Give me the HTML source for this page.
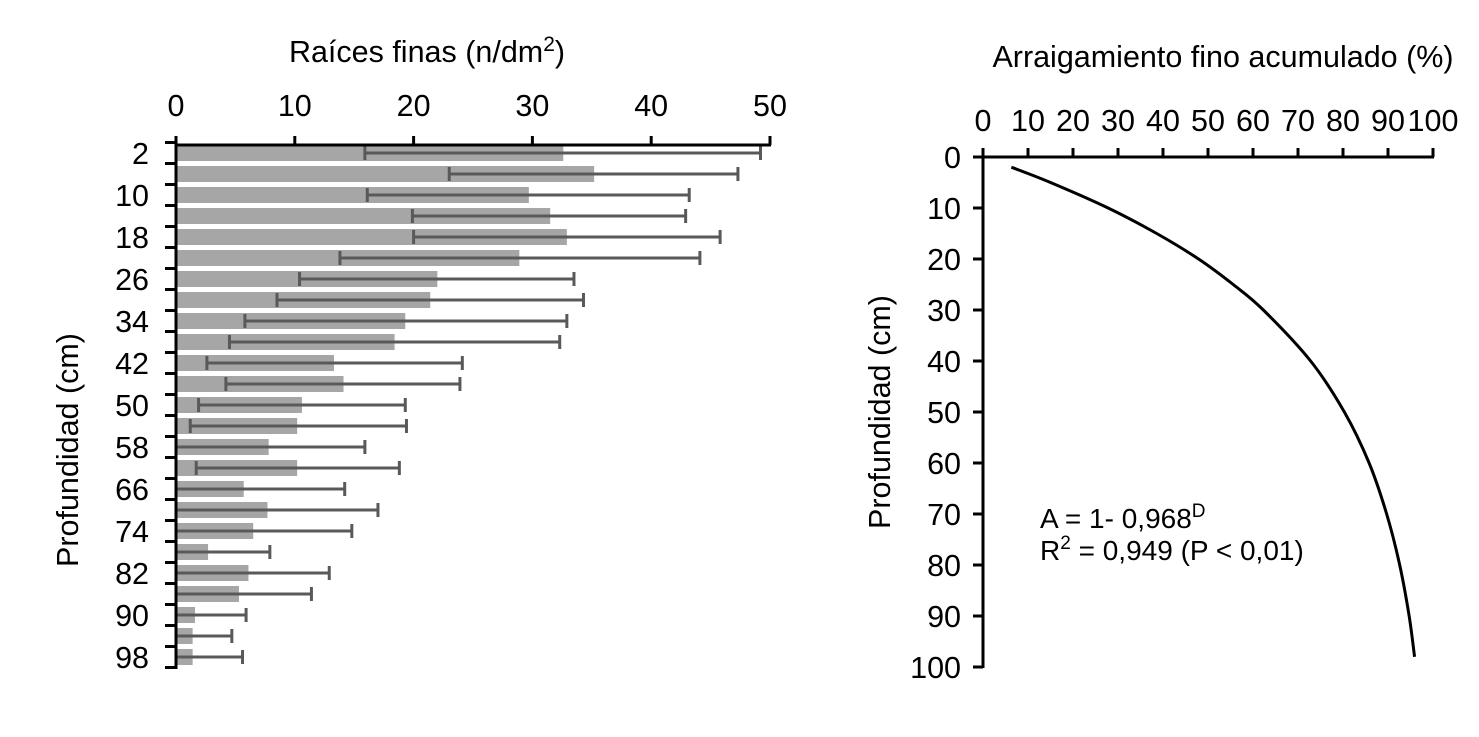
<!DOCTYPE html>
<html><head><meta charset="utf-8"><style>
html,body{margin:0;padding:0;background:#fff;width:1479px;height:737px;overflow:hidden}
svg{display:block;font-family:"Liberation Sans",Arial,sans-serif}
</style></head><body>
<svg id="c" width="1479" height="737"></svg>
<script>
const depths=[2,6,10,14,18,22,26,30,34,38,42,46,50,54,58,62,66,70,74,78,82,86,90,94,98];
const means=[32.6,35.2,29.7,31.5,32.9,28.9,22.0,21.4,19.3,18.4,13.3,14.1,10.6,10.2,7.8,10.2,5.7,7.7,6.5,2.7,6.1,5.3,1.6,1.4,1.4];
const errHigh=[49.2,47.3,43.2,42.9,45.8,44.1,33.5,34.3,32.9,32.3,24.1,23.9,19.3,19.4,15.9,18.8,14.2,17.0,14.8,7.9,12.9,11.4,5.9,4.7,5.6];
const errLow=[15.9,23.0,16.1,19.9,20.0,13.8,10.4,8.5,5.8,4.5,2.6,4.2,1.9,1.2,-0.3,1.7,-2.8,-1.6,-1.8,-2.5,-0.7,-0.8,-2.7,-1.9,-2.8];
const xTicks=[0,10,20,30,40,50];
const curveD=[2,5,10,15,20,25,30,40,50,60,70,80,90,98];
const curveA=[6.3,15.0,27.8,38.6,47.9,55.6,62.3,72.8,80.3,85.8,89.7,92.6,94.7,95.9];
const rxTicks=[0,10,20,30,40,50,60,70,80,90,100];
const ryTicks=[0,10,20,30,40,50,60,70,80,90,100];

const NS="http://www.w3.org/2000/svg";
const svg=document.getElementById('c');
const FS=30.5;
function mk(tag,attrs,parent,text){const e=document.createElementNS(NS,tag);for(const k in attrs)e.setAttribute(k,attrs[k]);if(text!==undefined)e.textContent=text;(parent||svg).appendChild(e);return e;}

// Left chart
const x0=176,x1=770,yTop=145,rowH=21,row0=153;
const X=v=>x0+(x1-x0)*v/50;
const Y=i=>row0+i*rowH;
const gl=mk('g',{});


let t=mk('text',{x:427,y:62,'text-anchor':'middle','font-size':FS},gl);


t.innerHTML='Raíces finas (n/dm<tspan dy="-11" font-size="21">2</tspan><tspan dy="11">)</tspan>';
means.forEach((m,i)=>{
  const r=mk('rect',{x:x0,y:Y(i)-8,width:X(m)-x0,height:16,fill:'#a6a6a6'},gl);
  
  
  const lo=Math.max(errLow[i],0);
  const e=mk('g',{stroke:'#595959','stroke-width':3},gl);
  
  
  mk('line',{x1:X(lo),x2:X(errHigh[i]),y1:Y(i),y2:Y(i)},e);
  mk('line',{x1:X(errHigh[i]),x2:X(errHigh[i]),y1:Y(i)-7,y2:Y(i)+7},e);
  if(errLow[i]>0) mk('line',{x1:X(lo),x2:X(lo),y1:Y(i)-7,y2:Y(i)+7},e);
});
const ax=mk('g',{stroke:'#000','stroke-width':3},gl);


mk('line',{x1:x0,x2:x1+1,y1:yTop,y2:yTop},ax);
mk('line',{x1:x0,x2:x0,y1:yTop-8,y2:Y(24)+12},ax);
xTicks.forEach(v=>{mk('line',{x1:X(v),x2:X(v),y1:yTop,y2:yTop-9},ax);
  const tt=mk('text',{x:X(v),y:116,'text-anchor':'middle','font-size':FS,stroke:'none',fill:'#000'},gl,v);
  
  });
for(let i=0;i<=25;i++){mk('line',{x1:x0,x2:x0-11,y1:Y(i)-10.5,y2:Y(i)-10.5},ax);}
depths.forEach((d,i)=>{if(i%2==0){const tt=mk('text',{x:149,y:Y(i)+11,'text-anchor':'end','font-size':FS},gl,d);
  
  }});
t=mk('text',{x:0,y:0,'text-anchor':'middle','font-size':FS,transform:'translate(78,450) rotate(-90)'},gl,'Profundidad (cm)');



// Right chart
const rx0=983,rx1=1433,ry0=157,ry1=667;
const RX=v=>rx0+(rx1-rx0)*v/100;
const RY=v=>ry0+(ry1-ry0)*v/100;
const gr=mk('g',{});


t=mk('text',{x:1223,y:67,'text-anchor':'middle','font-size':FS},gr,'Arraigamiento fino acumulado (%)');


const rax=mk('g',{stroke:'#000','stroke-width':3},gr);


mk('line',{x1:rx0-10,x2:rx1+1,y1:ry0,y2:ry0},rax);
mk('line',{x1:rx0,x2:rx0,y1:ry0-8,y2:ry1+1},rax);
rxTicks.forEach(v=>{mk('line',{x1:RX(v),x2:RX(v),y1:ry0,y2:ry0-9},rax);
  const tt=mk('text',{x:RX(v),y:131,'text-anchor':'middle','font-size':FS},gr,v);
  
  });
ryTicks.forEach(v=>{mk('line',{x1:rx0,x2:rx0-10,y1:RY(v),y2:RY(v)},rax);
  const tt=mk('text',{x:961,y:RY(v)+11,'text-anchor':'end','font-size':FS},gr,v);
  
  });
t=mk('text',{x:0,y:0,'text-anchor':'middle','font-size':FS,transform:'translate(890,412) rotate(-90)'},gr,'Profundidad (cm)');


const pts=curveD.map((d,i)=>[RX(curveA[i]),RY(d)]);
let dstr='M'+pts[0][0]+','+pts[0][1];
for(let i=0;i<pts.length-1;i++){const p0=pts[Math.max(i-1,0)],p1=pts[i],p2=pts[i+1],p3=pts[Math.min(i+2,pts.length-1)];
  dstr+=` C${p1[0]+(p2[0]-p0[0])/6},${p1[1]+(p2[1]-p0[1])/6} ${p2[0]-(p3[0]-p1[0])/6},${p2[1]-(p3[1]-p1[1])/6} ${p2[0]},${p2[1]}`;}
const cv=mk('path',{d:dstr,fill:'none',stroke:'#000','stroke-width':3},gr);


t=mk('text',{x:1040,y:528,'font-size':28},gr);


t.innerHTML='A = 1- 0,968<tspan dy="-11" font-size="19">D</tspan>';
t=mk('text',{x:1040,y:560,'font-size':28},gr);


t.innerHTML='R<tspan dy="-11" font-size="19">2</tspan><tspan dy="11"> = 0,949 (P &lt; 0,01)</tspan>';
</script>
</body></html>
